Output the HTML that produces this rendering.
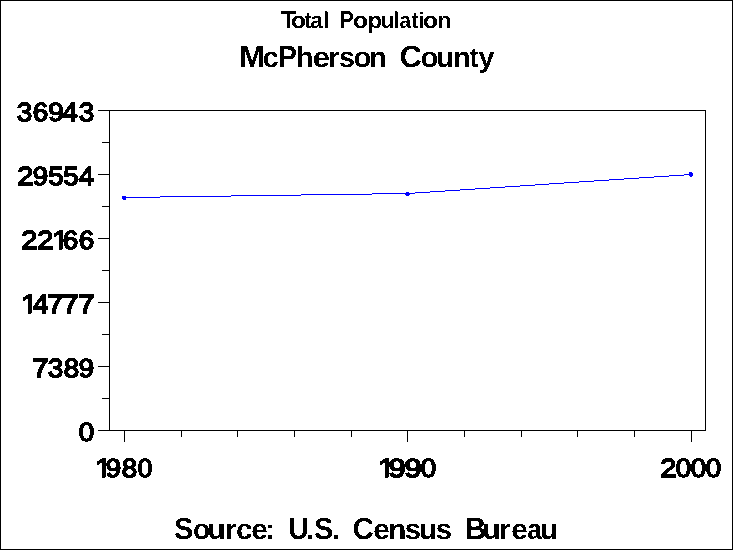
<!DOCTYPE html>
<html lang="en">
<head>
<meta charset="utf-8">
<title>Total Population - McPherson County</title>
<style>
html,body{margin:0;padding:0;background:#fff;}
body{width:733px;height:550px;overflow:hidden;}
svg{display:block;}
text{font-family:"Liberation Sans",sans-serif;font-weight:bold;fill:#000;white-space:pre;text-rendering:geometricPrecision;}
text.r{font-weight:normal;}
.ln{shape-rendering:crispEdges;}
</style>
</head>
<body>
<svg width="733" height="550" viewBox="0 0 733 550">
<rect x="0" y="0" width="733" height="550" fill="#fff"/>
<g class="ln" fill="#000">
<rect x="0" y="0" width="733" height="1"/><rect x="0" y="549" width="733" height="1"/><rect x="0" y="0" width="1" height="550"/><rect x="732" y="0" width="1" height="550"/>
<rect x="109" y="110" width="597" height="1"/>
<rect x="109" y="430" width="597" height="1"/>
<rect x="109" y="110" width="1" height="321"/>
<rect x="705" y="110" width="1" height="321"/>
<rect x="98" y="110" width="11" height="1"/>
<rect x="102" y="142" width="7" height="1"/>
<rect x="98" y="174" width="11" height="1"/>
<rect x="102" y="206" width="7" height="1"/>
<rect x="98" y="238" width="11" height="1"/>
<rect x="102" y="270" width="7" height="1"/>
<rect x="98" y="302" width="11" height="1"/>
<rect x="102" y="334" width="7" height="1"/>
<rect x="98" y="366" width="11" height="1"/>
<rect x="102" y="398" width="7" height="1"/>
<rect x="98" y="430" width="11" height="1"/>
<rect x="124" y="431" width="1" height="11"/>
<rect x="181" y="431" width="1" height="6"/>
<rect x="237" y="431" width="1" height="6"/>
<rect x="294" y="431" width="1" height="6"/>
<rect x="351" y="431" width="1" height="6"/>
<rect x="407" y="431" width="1" height="11"/>
<rect x="464" y="431" width="1" height="6"/>
<rect x="521" y="431" width="1" height="6"/>
<rect x="577" y="431" width="1" height="6"/>
<rect x="634" y="431" width="1" height="6"/>
<rect x="691" y="431" width="1" height="11"/>
</g>
<g class="ln" fill="#00f">
<rect x="124" y="197" width="36" height="1"/><rect x="160" y="196" width="71" height="1"/><rect x="231" y="195" width="70" height="1"/><rect x="301" y="194" width="71" height="1"/><rect x="372" y="193" width="36" height="1"/>
<rect x="407" y="193" width="8" height="1"/><rect x="415" y="192" width="15" height="1"/><rect x="430" y="191" width="15" height="1"/><rect x="445" y="190" width="15" height="1"/><rect x="460" y="189" width="15" height="1"/><rect x="475" y="188" width="15" height="1"/><rect x="490" y="187" width="15" height="1"/><rect x="505" y="186" width="15" height="1"/><rect x="520" y="185" width="15" height="1"/><rect x="535" y="184" width="14" height="1"/><rect x="549" y="183" width="15" height="1"/><rect x="564" y="182" width="15" height="1"/><rect x="579" y="181" width="15" height="1"/><rect x="594" y="180" width="15" height="1"/><rect x="609" y="179" width="15" height="1"/><rect x="624" y="178" width="15" height="1"/><rect x="639" y="177" width="15" height="1"/><rect x="654" y="176" width="15" height="1"/><rect x="669" y="175" width="15" height="1"/><rect x="684" y="174" width="8" height="1"/>
<rect x="122" y="196" width="4" height="3"/><rect x="123" y="199" width="3" height="1"/>
<rect x="406" y="192" width="3" height="4"/><rect x="405" y="193" width="5" height="2"/>
<rect x="689" y="172" width="3" height="4"/><rect x="689" y="173" width="4" height="3"/><rect x="690" y="176" width="2" height="1"/>
</g>
<defs><filter id="px" filterUnits="userSpaceOnUse" x="0" y="0" width="733" height="550" color-interpolation-filters="sRGB"><feComponentTransfer><feFuncA type="discrete" tableValues="0 1"/></feComponentTransfer></filter><filter id="pd" filterUnits="userSpaceOnUse" x="0" y="0" width="733" height="550" color-interpolation-filters="sRGB"><feComponentTransfer><feFuncA type="discrete" tableValues="0 1"/></feComponentTransfer></filter></defs>
<defs><clipPath id="c1_0"><polygon points="-5.00,-28.77 9.69,-28.77 9.34,-2.81 9.34,2.75 6.13,2.75 6.13,-2.81 -5.00,-2.81"/></clipPath></defs>
<g filter="url(#px)">
<text transform="translate(0 28.00) scale(0.9939 1.0000)" y="0"><tspan font-size="24.70" x="282.72">T</tspan><tspan font-size="22.80" x="292.83" textLength="15.00" lengthAdjust="spacingAndGlyphs">o</tspan><tspan font-size="22.80" x="306.63" textLength="6.51" lengthAdjust="spacingAndGlyphs">t</tspan><tspan font-size="22.80" x="312.20 325.35 335.35">al </tspan><tspan font-size="24.70" x="341.67" textLength="14.23" lengthAdjust="spacingAndGlyphs">P</tspan><tspan font-size="22.80" x="355.21" textLength="15.00" lengthAdjust="spacingAndGlyphs">o</tspan><tspan font-size="22.80" x="369.69" textLength="14.64" lengthAdjust="spacingAndGlyphs">p</tspan><tspan font-size="22.80" x="382.96 395.78">ul</tspan><tspan font-size="22.80" x="401.85" textLength="11.54" lengthAdjust="spacingAndGlyphs">a</tspan><tspan font-size="22.80" x="414.29" textLength="6.51" lengthAdjust="spacingAndGlyphs">t</tspan><tspan font-size="22.80" x="420.93">i</tspan><tspan font-size="22.80" x="425.64" textLength="15.00" lengthAdjust="spacingAndGlyphs">o</tspan><tspan font-size="22.80" x="440.22">n</tspan></text>
<text transform="translate(0 67.00) scale(1.0081 1.0000)" y="0"><tspan font-size="30.60" x="237.22">M</tspan><tspan font-size="28.50" x="260.75">c</tspan><tspan font-size="30.60" x="275.86" textLength="18.71" lengthAdjust="spacingAndGlyphs">P</tspan><tspan font-size="28.50" x="293.72">h</tspan><tspan font-size="28.50" x="310.26" textLength="17.14" lengthAdjust="spacingAndGlyphs">e</tspan><tspan font-size="28.50" x="325.53 336.36 350.87 366.19 376.19">rson </tspan><tspan font-size="30.60" x="396.42">C</tspan><tspan font-size="28.50" x="417.33 432.76 449.51">oun</tspan><tspan font-size="28.50" x="465.89" textLength="8.56" lengthAdjust="spacingAndGlyphs">t</tspan><tspan font-size="28.50" x="474.61">y</tspan></text>
<text transform="translate(0 539.00) scale(1.0409 1.0000)" y="0"><tspan font-size="30.60" x="167.34" textLength="18.18" lengthAdjust="spacingAndGlyphs">S</tspan><tspan font-size="28.50" x="185.32" textLength="16.52" lengthAdjust="spacingAndGlyphs">o</tspan><tspan font-size="28.50" x="199.35 216.14 226.83 241.31 254.65 264.65">urce: </tspan><tspan font-size="30.60" x="276.97" textLength="19.62" lengthAdjust="spacingAndGlyphs">U</tspan><tspan font-size="28.50" x="293.88">.</tspan><tspan font-size="30.60" x="301.84" textLength="18.18" lengthAdjust="spacingAndGlyphs">S</tspan><tspan font-size="28.50" x="318.85 328.85">. </tspan><tspan font-size="30.60" x="338.95" textLength="20.16" lengthAdjust="spacingAndGlyphs">C</tspan><tspan font-size="28.50" x="358.52 373.12 388.93 402.54 418.71 428.71">ensus </tspan><tspan font-size="30.60" x="446.76" textLength="20.48" lengthAdjust="spacingAndGlyphs">B</tspan><tspan font-size="28.50" x="463.54 479.37 491.09">ure</tspan><tspan font-size="28.50" x="506.52" textLength="14.03" lengthAdjust="spacingAndGlyphs">a</tspan><tspan font-size="28.50" x="518.78">u</tspan></text>
</g>
<g filter="url(#pd)">
<text transform="translate(0 121.15) scale(1.0600 1.0000)" y="0" class="r" stroke="#000" stroke-width="1.50"><tspan font-size="26.15" x="15.92 30.85 45.56 58.85 74.41">36943</tspan></text>
<text transform="translate(0 185.15) scale(1.0600 1.0000)" y="0" class="r" stroke="#000" stroke-width="1.50"><tspan font-size="26.15" x="16.38" textLength="15.34" lengthAdjust="spacingAndGlyphs">2</tspan><tspan font-size="26.15" x="30.94 45.58 59.73 74.42">9554</tspan></text>
<text transform="translate(0 249.15) scale(1.0600 1.0000)" y="0" class="r" stroke="#000" stroke-width="1.50"><tspan font-size="26.15" x="20.16" textLength="15.34" lengthAdjust="spacingAndGlyphs">2</tspan><tspan font-size="26.15" x="35.25" textLength="15.34" lengthAdjust="spacingAndGlyphs">2</tspan></text>
<text transform="translate(51.98 249.15) scale(1.1434 1.0000)" font-size="26.15" x="0" y="0" class="r" stroke="#000" stroke-width="1.50" clip-path="url(#c1_0)">1</text>
<text transform="translate(0 249.15) scale(1.0600 1.0000)" y="0" class="r" stroke="#000" stroke-width="1.50"><tspan font-size="26.15" x="59.15 74.24">66</tspan></text>
<text transform="translate(20.98 313.15) scale(1.1434 1.0000)" font-size="26.15" x="0" y="0" class="r" stroke="#000" stroke-width="1.50" clip-path="url(#c1_0)">1</text>
<text transform="translate(0 313.15) scale(1.0600 1.0000)" y="0" class="r" stroke="#000" stroke-width="1.50"><tspan font-size="26.15" x="31.02">4</tspan><tspan font-size="26.15" x="44.66" textLength="15.37" lengthAdjust="spacingAndGlyphs">7</tspan><tspan font-size="26.15" x="58.81" textLength="15.37" lengthAdjust="spacingAndGlyphs">7</tspan><tspan font-size="26.15" x="73.90" textLength="15.37" lengthAdjust="spacingAndGlyphs">7</tspan></text>
<text transform="translate(0 377.15) scale(1.0600 1.0000)" y="0" class="r" stroke="#000" stroke-width="1.50"><tspan font-size="26.15" x="30.51" textLength="15.37" lengthAdjust="spacingAndGlyphs">7</tspan><tspan font-size="26.15" x="45.16 60.18 74.34">389</tspan></text>
<text transform="translate(0 441.15) scale(1.0600 1.0000)" y="0" class="r" stroke="#000" stroke-width="1.50"><tspan font-size="26.15" x="74.33">0</tspan></text>
<text transform="translate(94.98 477.15) scale(1.1434 1.0000)" font-size="26.15" x="0" y="0" class="r" stroke="#000" stroke-width="1.50" clip-path="url(#c1_0)">1</text>
<text transform="translate(0 477.15) scale(1.0600 1.0000)" y="0" class="r" stroke="#000" stroke-width="1.50"><tspan font-size="26.15" x="99.81 114.90">98</tspan><tspan font-size="26.15" x="129.93" textLength="13.72" lengthAdjust="spacingAndGlyphs">0</tspan></text>
<text transform="translate(377.98 477.15) scale(1.1434 1.0000)" font-size="26.15" x="0" y="0" class="r" stroke="#000" stroke-width="1.50" clip-path="url(#c1_0)">1</text>
<text transform="translate(0 477.15) scale(1.0600 1.0000)" y="0" class="r" stroke="#000" stroke-width="1.50"><tspan font-size="26.15" x="366.45" textLength="16.17" lengthAdjust="spacingAndGlyphs">9</tspan><tspan font-size="26.15" x="381.55" textLength="16.17" lengthAdjust="spacingAndGlyphs">9</tspan><tspan font-size="26.15" x="396.97">0</tspan></text>
<text transform="translate(0 477.15) scale(1.0600 1.0000)" y="0" class="r" stroke="#000" stroke-width="1.50"><tspan font-size="26.15" x="622.99" textLength="15.34" lengthAdjust="spacingAndGlyphs">2</tspan><tspan font-size="26.15" x="637.54 651.69 665.84">000</tspan></text>
</g>
</svg>
</body>
</html>
